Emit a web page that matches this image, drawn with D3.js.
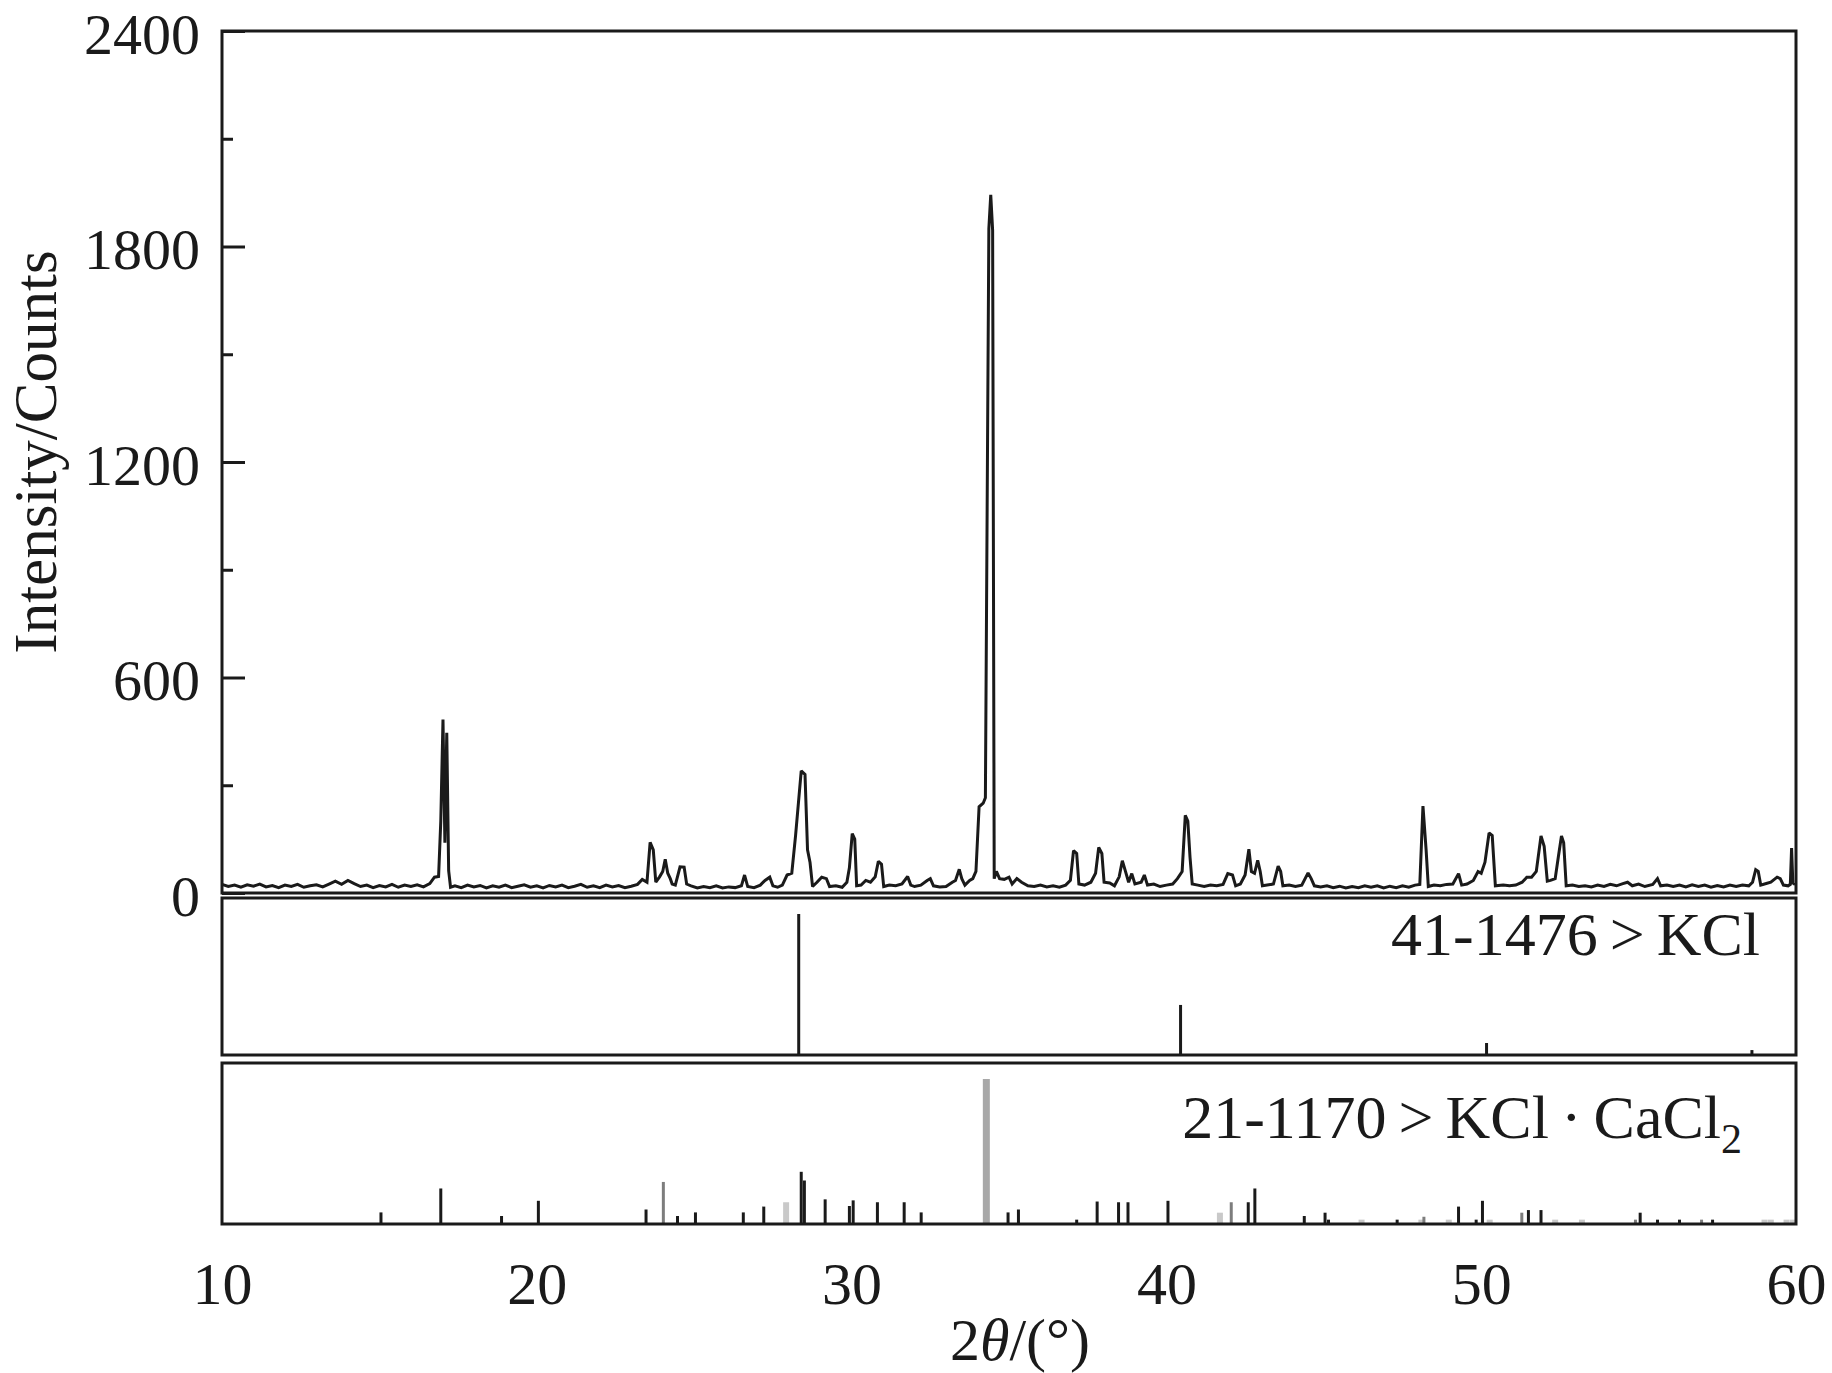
<!DOCTYPE html>
<html>
<head>
<meta charset="utf-8">
<script src="https://cdn.jsdelivr.net/npm/d3@7"></script>
<style>
  html, body { margin: 0; padding: 0; background: #ffffff; }
  svg { display: block; }
  text { font-family: "Liberation Serif", "Times New Roman", serif; fill: #1a1a1a; }
</style>
</head>
<body>
<svg id="chart" width="1832" height="1373"></svg>
<script>
// ---------- data ----------
const yTicksMajor = [0, 600, 1200, 1800, 2400];
const yTicksMinor = [300, 900, 1500, 2100];
const xTicks = [10, 20, 30, 40, 50, 60];

// measured pattern: [2θ (°), intensity (counts)]
const scanPoints = [
  [10.0,24],[10.2,18],[10.4,22],[10.6,16],[10.8,23],[11.0,19],[11.2,25],[11.4,17],[11.6,21],[11.8,15],
  [12.0,22],[12.2,18],[12.4,24],[12.6,16],[12.8,20],[13.0,23],[13.2,17],[13.4,25],[13.6,33],[13.8,24],
  [14.0,35],[14.2,26],[14.4,18],[14.6,22],[14.8,15],[15.0,21],[15.2,17],[15.4,24],[15.6,16],[15.8,22],
  [16.0,18],[16.2,23],[16.4,17],[16.6,26],[16.75,44],[16.88,46],[16.95,200],[17.02,483],[17.08,140],
  [17.14,446],[17.2,62],[17.26,16],[17.4,20],[17.6,15],[17.8,22],[18.0,17],[18.2,21],[18.4,14],[18.6,20],
  [18.8,16],[19.0,22],[19.2,15],[19.4,19],[19.6,23],[19.8,16],[20.0,20],[20.2,14],[20.4,21],[20.6,17],
  [20.8,22],[21.0,15],[21.2,19],[21.4,24],[21.6,16],[21.8,20],[22.0,15],[22.2,22],[22.4,17],[22.6,21],
  [22.8,15],[23.0,19],[23.2,24],[23.35,38],[23.5,30],[23.6,141],[23.7,120],[23.78,30],[23.9,45],[24.0,60],
  [24.08,94],[24.16,55],[24.24,40],[24.3,25],[24.4,22],[24.55,73],[24.68,72],[24.76,25],[24.9,20],
  [25.1,14],[25.3,18],[25.5,15],[25.7,20],[25.9,14],[26.1,17],[26.3,15],[26.5,20],[26.6,50],[26.7,18],
  [26.9,15],[27.1,22],[27.25,35],[27.4,44],[27.5,20],[27.65,16],[27.8,22],[27.95,50],[28.1,55],[28.22,160],
  [28.4,340],[28.52,330],[28.6,120],[28.68,85],[28.76,18],[28.9,30],[29.05,44],[29.2,40],[29.3,18],
  [29.5,20],[29.7,16],[29.85,30],[29.93,70],[30.02,165],[30.1,150],[30.16,20],[30.3,22],[30.45,35],
  [30.6,30],[30.75,45],[30.85,88],[30.95,80],[31.02,18],[31.2,22],[31.4,20],[31.6,25],[31.78,46],
  [31.88,22],[32.0,18],[32.2,22],[32.4,35],[32.5,40],[32.6,20],[32.8,17],[33.0,18],[33.2,30],[33.3,35],
  [33.42,66],[33.5,40],[33.6,22],[33.75,35],[33.85,40],[33.95,60],[34.05,240],[34.18,250],[34.25,265],
  [34.36,1850],[34.42,1944],[34.48,1845],[34.53,40],[34.6,60],[34.7,40],[34.85,38],[35.0,44],[35.1,25],
  [35.25,40],[35.4,30],[35.6,20],[35.8,18],[36.0,22],[36.2,17],[36.4,20],[36.6,16],[36.8,22],[36.95,35],
  [37.05,118],[37.15,110],[37.22,25],[37.4,22],[37.6,30],[37.75,55],[37.85,127],[37.95,110],[38.02,30],
  [38.2,28],[38.35,20],[38.5,45],[38.6,90],[38.7,60],[38.8,30],[38.9,54],[39.0,25],[39.2,30],[39.3,50],
  [39.4,22],[39.6,25],[39.8,18],[40.0,22],[40.2,25],[40.35,40],[40.5,60],[40.6,216],[40.68,200],
  [40.75,100],[40.82,25],[41.0,22],[41.2,18],[41.4,22],[41.6,20],[41.8,24],[41.95,54],[42.1,50],[42.2,20],
  [42.35,25],[42.5,50],[42.62,122],[42.7,60],[42.8,55],[42.9,91],[42.98,60],[43.05,20],[43.2,22],
  [43.4,25],[43.55,75],[43.63,60],[43.7,20],[43.9,22],[44.1,18],[44.3,22],[44.5,56],[44.6,40],[44.7,20],
  [44.9,17],[45.1,20],[45.3,15],[45.5,19],[45.7,14],[45.9,18],[46.1,15],[46.3,20],[46.5,16],[46.7,20],
  [46.9,14],[47.1,19],[47.3,15],[47.5,20],[47.7,16],[47.9,22],[48.05,24],[48.15,242],[48.25,120],
  [48.32,18],[48.5,22],[48.7,20],[48.9,24],[49.1,25],[49.28,54],[49.38,22],[49.55,25],[49.75,35],
  [49.9,60],[50.0,55],[50.12,86],[50.25,167],[50.35,160],[50.45,20],[50.7,22],[50.9,20],[51.1,22],
  [51.3,30],[51.45,44],[51.6,44],[51.75,60],[51.9,159],[52.0,130],[52.1,33],[52.2,35],[52.35,40],
  [52.45,100],[52.55,159],[52.62,140],[52.7,20],[52.9,22],[53.1,18],[53.3,20],[53.5,17],[53.7,22],
  [53.9,18],[54.1,24],[54.3,20],[54.5,26],[54.65,30],[54.8,20],[55.0,25],[55.2,18],[55.45,24],[55.6,40],
  [55.7,20],[55.9,22],[56.1,18],[56.3,22],[56.5,17],[56.7,23],[56.9,18],[57.1,22],[57.3,16],[57.5,21],
  [57.7,17],[57.9,22],[58.1,18],[58.3,22],[58.5,20],[58.62,30],[58.72,65],[58.8,60],[58.88,22],[59.0,25],
  [59.2,30],[59.4,44],[59.5,40],[59.6,22],[59.75,20],[59.82,24],[59.86,125],[59.9,28],[59.97,24]
];

// reference card 41-1476 > KCl: [2θ, relative intensity]
const kclSticks = [[28.32,100],[40.45,35.5],[50.17,8.5],[58.6,3.5]];

// reference card 21-1170 > KCl·CaCl2: [2θ, relative intensity, tone]
const kcc2Sticks = [
  [15.05,8,"k"],[16.95,24.5,"k"],[18.88,5.5,"k"],[20.05,16,"k"],[23.47,10,"k"],[24.02,29,"m"],
  [24.47,5.5,"k"],[25.04,8,"k"],[26.56,8,"k"],[27.21,12,"k"],[27.92,15,"l"],[28.4,36,"k"],[28.5,30,"k"],
  [29.16,17,"k"],[29.93,12.4,"k"],[30.05,16.3,"k"],[30.82,15,"k"],[31.67,15,"k"],[32.21,8,"k"],
  [34.28,100,"g"],[34.97,8,"k"],[35.3,10,"k"],[37.15,3,"k"],[37.8,15.5,"k"],[38.48,15,"k"],[38.78,15,"k"],
  [40.05,16,"k"],[41.7,7.8,"l"],[42.06,15,"m"],[42.6,15,"k"],[42.81,24.5,"k"],[44.38,5.5,"k"],
  [45.04,7.8,"k"],[45.15,3,"k"],[46.2,3,"l"],[47.33,3,"k"],[48.1,3,"l"],[48.18,5,"m"],[48.97,3,"l"],
  [49.28,12,"k"],[49.84,3,"k"],[50.04,16,"k"],[50.27,3,"l"],[51.29,7.8,"m"],[51.5,9.6,"k"],[51.9,9.6,"k"],
  [52.35,3,"l"],[53.2,3,"l"],[54.9,3,"m"],[55.05,7.8,"k"],[55.6,3,"k"],[56.3,3,"k"],[57.0,3,"m"],
  [57.35,3,"k"],[59.0,3,"l"],[59.2,3,"l"],[59.7,3,"l"],[59.9,3,"l"]
];

const yTitle = "Intensity/Counts";

// ---------- layout ----------
const svg = d3.select("#chart");
svg.append("rect").attr("width", 1832).attr("height", 1373).attr("fill", "#fff");

const L = 222, R = 1796;
const main = {top: 31, bottom: 893};
const p2 = {top: 898, bottom: 1055};
const p3 = {top: 1063, bottom: 1224};
const ink = "#1a1a1a";
const serif = '"Liberation Serif", "Times New Roman", serif';

const x = d3.scaleLinear().domain([10, 60]).range([L, R]);
const y = d3.scaleLinear().domain([0, 2400]).range([main.bottom, main.top]);
const yK = d3.scaleLinear().domain([0, 100]).range([p2.bottom, p2.top + 16]);
const yC = d3.scaleLinear().domain([0, 100]).range([p3.bottom, p3.top + 16]);

// ---------- main trace ----------
const line = d3.line().x(d => x(d[0])).y(d => y(d[1]));
svg.append("path")
  .datum(scanPoints)
  .attr("d", line)
  .attr("fill", "none")
  .attr("stroke", ink)
  .attr("stroke-width", 3)
  .attr("stroke-linejoin", "miter")
  .attr("stroke-miterlimit", 2);

// ---------- reference sticks ----------
svg.append("g").selectAll("line").data(kclSticks).join("line")
  .attr("x1", d => x(d[0])).attr("x2", d => x(d[0]))
  .attr("y1", yK(0)).attr("y2", d => yK(d[1]))
  .attr("stroke", ink).attr("stroke-width", 3);

const toneColor = {k: ink, m: "#7d7d7d", g: "#a8a8a8", l: "#c9c9c9"};
const toneWidth = {k: 3, m: 3, g: 7, l: 6};
svg.append("g").selectAll("line").data(kcc2Sticks).join("line")
  .attr("x1", d => x(d[0])).attr("x2", d => x(d[0]))
  .attr("y1", yC(0)).attr("y2", d => yC(d[1]))
  .attr("stroke", d => toneColor[d[2]])
  .attr("stroke-width", d => toneWidth[d[2]]);

// ---------- frames ----------
[[main.top, main.bottom], [p2.top, p2.bottom], [p3.top, p3.bottom]].forEach(([t, b]) => {
  svg.append("rect")
    .attr("x", L).attr("y", t).attr("width", R - L).attr("height", b - t)
    .attr("fill", "none").attr("stroke", ink).attr("stroke-width", 3);
});

// ---------- axes ----------
const yAxis = d3.axisLeft(y).tickValues(yTicksMajor).tickSizeInner(-23).tickSizeOuter(0)
  .tickPadding(22).tickFormat(d3.format("d"));
const gy = svg.append("g").attr("transform", `translate(${L},0)`).call(yAxis);
gy.select(".domain").remove();
gy.selectAll(".tick line").attr("stroke", ink).attr("stroke-width", 3);
gy.selectAll("text").attr("font-size", 58).attr("dy", "0.38em").attr("fill", ink)
  .style("font-family", serif);

const yMinor = d3.axisLeft(y).tickValues(yTicksMinor).tickSizeInner(-11).tickSizeOuter(0).tickFormat("");
const gym = svg.append("g").attr("transform", `translate(${L},0)`).call(yMinor);
gym.select(".domain").remove();
gym.selectAll(".tick line").attr("stroke", ink).attr("stroke-width", 3);

const xAxis = d3.axisBottom(x).tickValues(xTicks).tickSize(0).tickPadding(37).tickFormat(d3.format("d"));
const gx = svg.append("g").attr("transform", `translate(0,${p3.bottom})`).call(xAxis);
gx.select(".domain").remove();
gx.selectAll("text").attr("font-size", 60).attr("fill", ink)
  .style("font-family", serif);

// ---------- titles ----------
svg.append("text")
  .attr("transform", "translate(56,452) rotate(-90)")
  .attr("text-anchor", "middle")
  .attr("font-size", 61)
  .text(yTitle);

const xt = svg.append("text")
  .attr("x", 1020).attr("y", 1360)
  .attr("text-anchor", "middle")
  .attr("font-size", 60);
xt.append("tspan").text("2");
xt.append("tspan").attr("font-style", "italic").text("θ");
xt.append("tspan").text("/(°)");

const t2 = svg.append("text")
  .attr("x", 1760).attr("y", 955)
  .attr("text-anchor", "end")
  .attr("font-size", 62);
t2.append("tspan").text("41-1476");
t2.append("tspan").attr("dx", 12).text(">");
t2.append("tspan").attr("dx", 12).text("KCl");

const t3 = svg.append("text")
  .attr("x", 1742).attr("y", 1138)
  .attr("text-anchor", "end")
  .attr("font-size", 62);
t3.append("tspan").text("21-1170");
t3.append("tspan").attr("dx", 12).text(">");
t3.append("tspan").attr("dx", 12).text("KCl");
t3.append("tspan").attr("dx", 12).text("·");
t3.append("tspan").attr("dx", 12).text("CaCl");
t3.append("tspan").attr("font-size", 42).attr("dy", 15).text("2");
</script>
</body>
</html>
